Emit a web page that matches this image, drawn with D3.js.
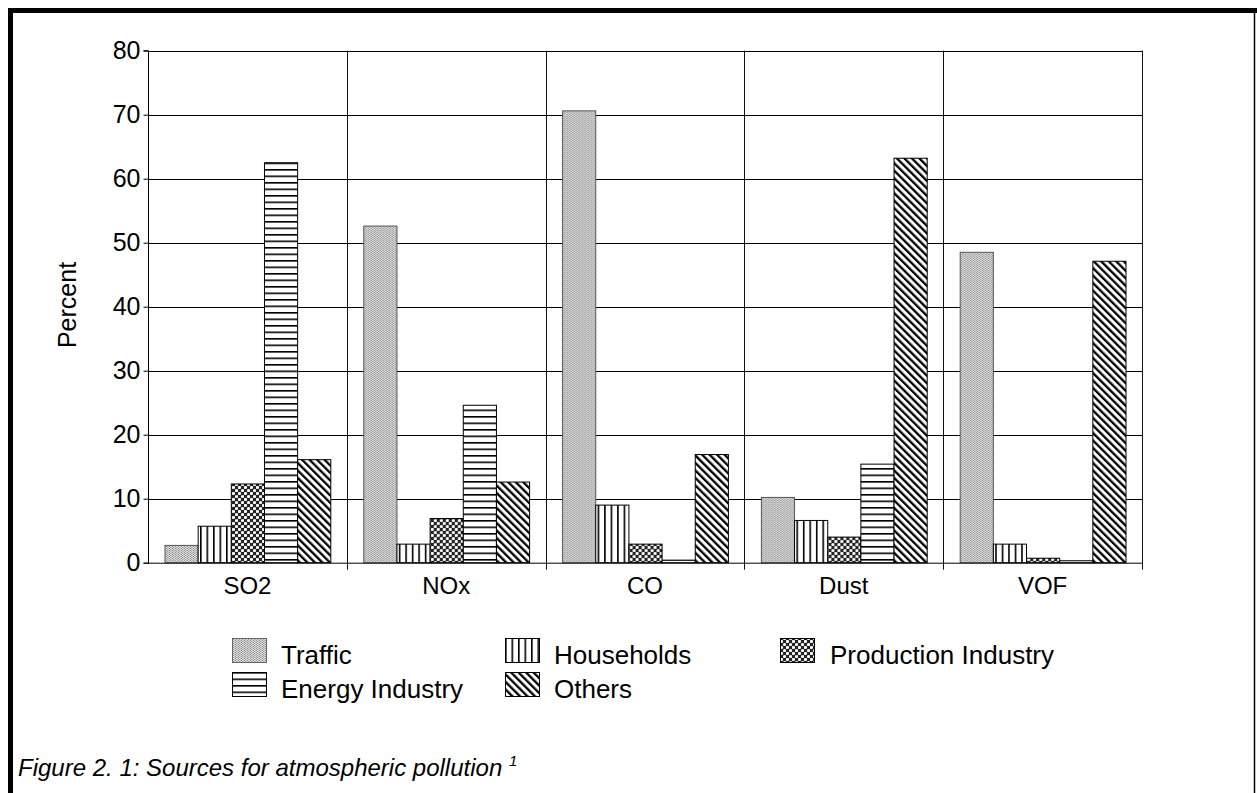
<!DOCTYPE html>
<html><head><meta charset="utf-8">
<script src="https://cdn.jsdelivr.net/npm/d3@7/dist/d3.min.js"></script>
<style>
html,body{margin:0;padding:0;background:#fff;}
svg{display:block;}
text{font-family:"Liberation Sans",Arial,sans-serif;fill:#000;}
</style></head>
<body>
<svg id="c" width="1257" height="793"></svg>
<script>
const categories = ["SO2","NOx","CO","Dust","VOF"];
const seriesNames = ["Traffic","Households","Production Industry","Energy Industry","Others"];
const traffic    = [2.7, 52.6, 70.6, 10.2, 48.5];
const households = [5.7, 2.9, 9.0, 6.6, 2.9];
const production = [12.3, 6.9, 2.9, 4.0, 0.7];
const energy     = [62.5, 24.6, 0.4, 15.4, 0.3];
const others     = [16.1, 12.6, 16.9, 63.2, 47.1];
const yTicks = [0,10,20,30,40,50,60,70,80];
const caption = "Figure 2. 1: Sources for atmospheric pollution";
const seriesValues = [traffic, households, production, energy, others];

const svg = d3.select("#c");
const defs = svg.append("defs");

// patterns
const pTraffic = defs.append("pattern").attr("id","p0").attr("patternUnits","userSpaceOnUse").attr("width",3).attr("height",2);
pTraffic.append("rect").attr("width",3).attr("height",2).attr("fill","#e2e2e2");
pTraffic.append("rect").attr("x",0).attr("y",0).attr("width",1).attr("height",1).attr("fill","#8a8a8a");
pTraffic.append("rect").attr("x",1).attr("y",1).attr("width",1).attr("height",1).attr("fill","#9a9a9a");
pTraffic.append("rect").attr("x",2).attr("y",0).attr("width",1).attr("height",2).attr("fill","#c8c8c8");

const pHouse = defs.append("pattern").attr("id","p1").attr("patternUnits","userSpaceOnUse").attr("width",6.5).attr("height",10);
pHouse.append("rect").attr("width",6.5).attr("height",10).attr("fill","#fff");
pHouse.append("rect").attr("x",0).attr("width",1.6).attr("height",10).attr("fill","#000");

const pProd = defs.append("pattern").attr("id","p2").attr("patternUnits","userSpaceOnUse").attr("width",6).attr("height",6);
pProd.append("rect").attr("width",6).attr("height",6).attr("fill","#222");
pProd.append("circle").attr("cx",1.5).attr("cy",1.5).attr("r",1.6).attr("fill","#fff");
pProd.append("circle").attr("cx",4.5).attr("cy",4.5).attr("r",1.6).attr("fill","#fff");

const pEnergy = defs.append("pattern").attr("id","p3").attr("patternUnits","userSpaceOnUse").attr("width",10).attr("height",6.5);
pEnergy.append("rect").attr("width",10).attr("height",6.5).attr("fill","#fff");
pEnergy.append("rect").attr("y",0).attr("width",10).attr("height",1.6).attr("fill","#000");

const pOthers = defs.append("pattern").attr("id","p4").attr("patternUnits","userSpaceOnUse").attr("width",5.3).attr("height",5.3).attr("patternTransform","rotate(-45)");
pOthers.append("rect").attr("width",5.3).attr("height",5.3).attr("fill","#fff");
pOthers.append("rect").attr("x",0).attr("width",2.3).attr("height",5.3).attr("fill","#000");

const fills = ["url(#p0)","url(#p1)","url(#p2)","url(#p3)","url(#p4)"];

// frame
svg.append("line").attr("x1",10.5).attr("x2",10.5).attr("y1",8).attr("y2",793).attr("stroke","#000").attr("stroke-width",5);
svg.append("line").attr("x1",8).attr("x2",1257).attr("y1",10.5).attr("y2",10.5).attr("stroke","#000").attr("stroke-width",5);
svg.append("line").attr("x1",1254.5).attr("x2",1254.5).attr("y1",10).attr("y2",793).attr("stroke","#000").attr("stroke-width",1.5);

const L = 148, R = 1142, T = 50.7, B = 562.7;
const y = d3.scaleLinear().domain([0,80]).range([B,T]);
const x = d3.scaleBand().domain(categories).range([L,R]).padding(0);
const x1 = d3.scaleBand().domain(seriesNames).range([17, x.bandwidth()-16]).padding(0);

// horizontal grid
svg.append("g").selectAll("line").data(yTicks.filter(v=>v>0)).join("line")
  .attr("x1",L).attr("x2",R).attr("y1",d=>Math.round(y(d))+0.5).attr("y2",d=>Math.round(y(d))+0.5)
  .attr("stroke","#000").attr("stroke-width",1);
// vertical separators
const bounds = categories.slice(1).map(c=>x(c)).concat([R]);
svg.append("g").selectAll("line").data(bounds).join("line")
  .attr("x1",d=>Math.round(d)+0.5).attr("x2",d=>Math.round(d)+0.5).attr("y1",T).attr("y2",B+7)
  .attr("stroke","#111").attr("stroke-width",1);

// bars
const groups = svg.append("g").selectAll("g").data(categories).join("g")
  .attr("transform",c=>`translate(${x(c)},0)`);
groups.selectAll("rect").data((c,i)=>seriesNames.map((s,j)=>({s, j, v: seriesValues[j][i]}))).join("rect")
  .attr("x",d=>x1(d.s)).attr("width",x1.bandwidth())
  .attr("y",d=>y(d.v)).attr("height",d=>B-y(d.v))
  .attr("fill",d=>fills[d.j]).attr("stroke",d=>d.j===0?"#555":"#000").attr("stroke-width",1);

// y axis
const yAxis = d3.axisLeft(y).tickValues(yTicks).tickSize(5).tickPadding(3).tickFormat(d3.format("d"));
const ga = svg.append("g").attr("transform",`translate(${L+0.5},0)`).call(yAxis);
ga.select(".domain").attr("stroke","#000").attr("d",`M-5,${T}H0V${B+0.5}H-5`);
ga.selectAll(".tick line").attr("stroke","#000");
ga.selectAll("text").style("font-size","25px").style("font-family","'Liberation Sans',Arial,sans-serif").attr("fill","#000");

// x axis baseline + labels
svg.append("line").attr("x1",L).attr("x2",R).attr("y1",B+0.5).attr("y2",B+0.5).attr("stroke","#000");
svg.append("g").selectAll("text").data(categories).join("text")
  .attr("x",c=>x(c)+x.bandwidth()/2).attr("y",594).attr("text-anchor","middle")
  .style("font-size","24px").text(c=>c);

// y label
svg.append("text").attr("transform","translate(76,305) rotate(-90)").attr("text-anchor","middle")
  .style("font-size","25px").text("Percent");

// legend
const legPos = [[232,664],[505,664],[780,664],[232,698],[505,698]];
const lg = svg.append("g").selectAll("g").data(seriesNames).join("g")
  .attr("transform",(d,i)=>`translate(${legPos[i][0]},${legPos[i][1]})`);
lg.append("rect").attr("x",0.5).attr("y",-25.5).attr("width",34).attr("height",24)
  .attr("fill",(d,i)=>fills[i]).attr("stroke",(d,i)=>i===0?"#666":"#000").attr("stroke-width",1);
lg.append("text").attr("x",(d,i)=>i===2?50:49).attr("y",0).style("font-size","26px").text(d=>d);

// caption
const cap = svg.append("text").attr("x",18).attr("y",776).style("font-size","24px").style("font-style","italic");
cap.append("tspan").text(caption + " ");
cap.append("tspan").attr("dy",-10).style("font-size","15px").text("1");
</script>
</body></html>
